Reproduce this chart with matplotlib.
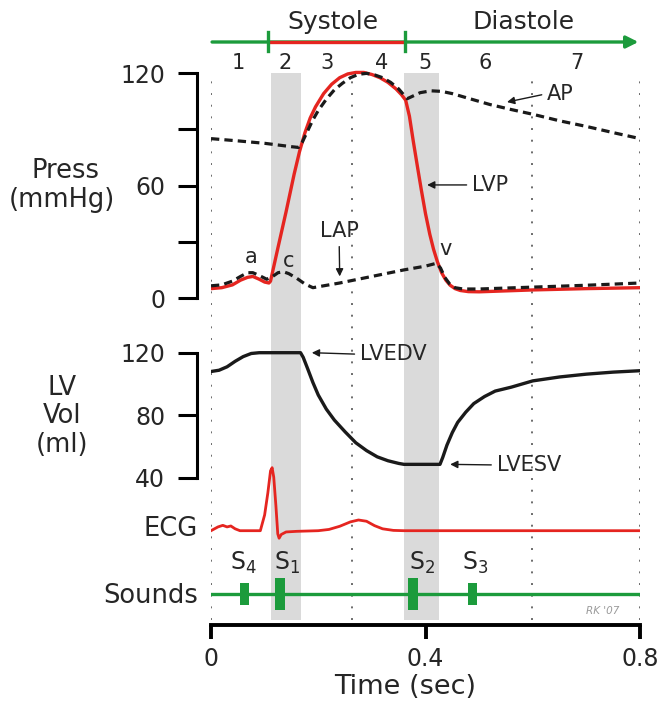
import matplotlib
matplotlib.use('Agg')
import matplotlib.pyplot as plt

# ---------------- data ----------------
# pressures (mmHg) vs time (s)
lvp_t = [0.000, 0.020, 0.040, 0.055, 0.068, 0.078, 0.090, 0.100, 0.108, 0.111, 0.125, 0.140, 0.155,
         0.165, 0.175, 0.185, 0.195, 0.210, 0.225, 0.240, 0.255, 0.270, 0.285, 0.300, 0.315, 0.330,
         0.345, 0.355, 0.363, 0.370, 0.377, 0.385, 0.392, 0.400, 0.408, 0.415, 0.422, 0.430, 0.438,
         0.446, 0.455, 0.465, 0.480, 0.500, 0.550, 0.600, 0.700, 0.800]
lvp_p = [5.0, 5.5, 7.0, 9.5, 11.0, 11.5, 10.0, 8.5, 8.0, 9.0, 27.0, 46.0, 66.0,
         78.0, 88.0, 96.0, 102.0, 109.0, 114.0, 117.5, 119.5, 120.3, 120.3, 119.2, 117.5, 115.0,
         111.5, 108.5, 105.5, 97.0, 84.0, 70.0, 58.0, 45.0, 34.0, 26.0, 19.5, 13.5, 9.5,
         6.8, 5.0, 4.0, 3.4, 3.3, 3.8, 4.3, 5.0, 5.5]

ap_t = [0.000, 0.050, 0.100, 0.150, 0.163, 0.170, 0.180, 0.190, 0.200, 0.215, 0.230, 0.245, 0.260,
        0.275, 0.290, 0.305, 0.320, 0.335, 0.350, 0.362, 0.366, 0.375, 0.390, 0.410, 0.430, 0.450,
        0.480, 0.520, 0.560, 0.600, 0.650, 0.700, 0.750, 0.800]
ap_p = [85.0, 83.8, 82.5, 80.7, 80.3, 83.0, 89.0, 95.0, 100.0, 106.0, 111.0, 114.5, 117.5,
        119.3, 119.8, 119.0, 117.5, 115.0, 111.5, 107.5, 106.3, 107.5, 109.5, 110.5, 110.2, 109.0,
        106.5, 103.2, 100.5, 98.0, 94.5, 91.5, 88.2, 85.0]

lap_t = [0.000, 0.020, 0.040, 0.055, 0.068, 0.078, 0.090, 0.104, 0.115, 0.125, 0.135, 0.145, 0.160,
         0.175, 0.190, 0.240, 0.300, 0.360, 0.400, 0.420, 0.428, 0.436, 0.445, 0.455, 0.470, 0.500,
         0.550, 0.600, 0.700, 0.800]
lap_p = [6.5, 7.0, 9.0, 11.5, 13.5, 13.5, 12.0, 10.0, 11.5, 13.5, 14.0, 13.0, 10.5,
         7.5, 5.5, 8.0, 11.5, 15.0, 17.0, 18.5, 16.0, 11.0, 7.5, 5.5, 4.8, 4.8,
         5.3, 5.8, 6.8, 8.0]

# LV volume (ml)
vol_t = [0.000, 0.015, 0.030, 0.045, 0.060, 0.075, 0.090, 0.111, 0.167, 0.172, 0.180, 0.190, 0.200,
         0.215, 0.230, 0.250, 0.270, 0.290, 0.310, 0.330, 0.350, 0.360, 0.427, 0.432, 0.440, 0.450,
         0.460, 0.475, 0.490, 0.510, 0.530, 0.560, 0.600, 0.650, 0.700, 0.750, 0.800]
vol_v = [108.0, 108.8, 111.0, 114.5, 117.5, 119.5, 120.0, 120.0, 120.0, 117.0, 110.0, 101.0, 93.0,
         84.0, 77.0, 69.5, 62.5, 57.5, 53.5, 51.0, 49.3, 48.7, 48.7, 53.0, 61.0, 69.0,
         75.5, 82.0, 87.5, 92.0, 95.5, 98.0, 102.0, 104.5, 106.3, 107.6, 108.5]

# ECG (mV)
ecg_t = [0.000, 0.013, 0.022, 0.030, 0.037, 0.045, 0.054, 0.092, 0.100, 0.106, 0.111, 0.114, 0.117,
         0.121, 0.1245, 0.127, 0.131, 0.140, 0.160, 0.200, 0.220, 0.240, 0.260, 0.275, 0.290, 0.305,
         0.320, 0.340, 0.360, 0.800]
ecg_v = [0.00, 0.06, 0.085, 0.06, 0.075, 0.03, 0.00, 0.00, 0.25, 0.60, 0.95, 1.00, 0.85,
         0.40, -0.05, -0.12, -0.06, -0.02, -0.01, 0.00, 0.02, 0.07, 0.14, 0.17, 0.15, 0.08,
         0.03, 0.005, 0.00, 0.00]

# heart sounds
sound_names = ['S$_4$', 'S$_1$', 'S$_2$', 'S$_3$']
sound_t = [0.063, 0.129, 0.377, 0.488]
sound_amp = [0.70, 1.00, 1.00, 0.70]
sound_w = [0.016, 0.019, 0.019, 0.016]
sound_label_t = [0.060, 0.142, 0.394, 0.492]
sound_line_t = [0.0, 0.8]

# phases / shading / grid
bands = [(0.111, 0.167), (0.360, 0.425)]
grid_t = [0.0, 0.263, 0.599, 0.8]
systole = (0.106, 0.362)
timeline = (0.002, 0.797)
phase_labels = ['1', '2', '3', '4', '5', '6', '7']
phase_t = [0.050, 0.138, 0.216, 0.319, 0.399, 0.511, 0.683]

time_ticks = [0, 0.4, 0.8]
time_ticklabels = ['0', '0.4', '0.8']
p_ticks = [0, 30, 60, 90, 120]
p_ticklabels = ['0', '', '60', '', '120']
v_ticks = [40, 80, 120]
v_ticklabels = ['40', '80', '120']

# ---------------- style / layout ----------------
RED = '#e52520'
GREEN = '#1c9b3c'
INK = '#1a1a1a'
TXT = '#262626'
BAND = '#dadada'

W, H = 664, 704
fig = plt.figure(figsize=(W / 100, H / 100), dpi=100)
X0, X1 = 211, 640


def rect(y_top, y_bot, x0=X0, x1=X1):
    return [x0 / W, 1 - y_bot / H, (x1 - x0) / W, (y_bot - y_top) / H]


def clean(ax):
    ax.set_facecolor('none')
    for s in ax.spines.values():
        s.set_visible(False)
    ax.set_xlim(0, 0.8)


# background: shading + dotted grid
ax_bg = fig.add_axes(rect(73, 620))
clean(ax_bg)
ax_bg.set_ylim(0, 1)
ax_bg.axis('off')
for a, b in bands:
    ax_bg.axvspan(a, b, color=BAND, lw=0, zorder=0)
ax_bg.vlines(grid_t, 0, 1, colors='#6a6a6a', linestyles=(0, (1, 5)), lw=1.4, zorder=1)

# top timeline (y in pixels)
ax_top = fig.add_axes(rect(0, 73))
clean(ax_top)
ax_top.set_ylim(73, 0)
ax_top.axis('off')
ax_top.annotate('', xy=(timeline[1], 42), xytext=(timeline[0], 42),
                arrowprops=dict(arrowstyle='-|>', color=GREEN, lw=2.4, mutation_scale=18,
                                shrinkA=0, shrinkB=0), annotation_clip=False)
ax_top.plot(systole, [42, 42], color=RED, lw=2.4, solid_capstyle='butt', zorder=3)
for x in systole:
    ax_top.plot([x, x], [32, 51], color=GREEN, lw=2.4, zorder=4)
ax_top.text(sum(systole) / 2 - 0.006, 22, 'Systole', ha='center', va='center', fontsize=18, color=TXT)
ax_top.text(0.582, 22, 'Diastole', ha='center', va='center', fontsize=18, color=TXT)
for lab, x in zip(phase_labels, phase_t):
    ax_top.text(x, 63, lab, ha='center', va='center', fontsize=15, color=TXT)

# pressure axes
P0, PS = 298.0, 1.875
ax_p = fig.add_axes(rect(P0 - 124 * PS, P0 + 2 * PS))
clean(ax_p)
ax_p.set_ylim(-2, 124)
ax_p.spines['left'].set_visible(True)
ax_p.spines['left'].set_position(('outward', 10))
ax_p.spines['left'].set_bounds(0, 120)
ax_p.spines['left'].set_linewidth(2.2)
ax_p.set_yticks(p_ticks)
ax_p.set_yticklabels(p_ticklabels)
ax_p.tick_params(axis='y', length=14, width=2.2, pad=9, labelsize=17, labelcolor=TXT)
ax_p.xaxis.set_visible(False)
dash = (2.6, 1.6)
ax_p.plot(ap_t, ap_p, color=INK, lw=2.3, dashes=dash, zorder=3)
ax_p.plot(lap_t, lap_p, color=INK, lw=2.3, dashes=dash, zorder=3)
ax_p.plot(lvp_t, lvp_p, color=RED, lw=2.4, zorder=2)
arr = dict(arrowstyle='-|>', color=INK, lw=1.0, mutation_scale=11, shrinkA=2, shrinkB=0)
ax_p.annotate('LVP', xy=(0.403, 60.3), xytext=(0.487, 60.3), ha='left', va='center', fontsize=15,
              color=TXT, arrowprops=dict(arr, relpos=(0, 0.5)))
ax_p.annotate('AP', xy=(0.552, 104.5), xytext=(0.627, 109), ha='left', va='center', fontsize=15,
              color=TXT, arrowprops=dict(arr, relpos=(0, 0.5)))
ax_p.annotate('LAP', xy=(0.240, 11.5), xytext=(0.239, 35.7), ha='center', va='center', fontsize=15,
              color=TXT, arrowprops=dict(arr, relpos=(0.5, 0)))
ax_p.text(0.0746, 21.9, 'a', ha='center', va='center', fontsize=15, color=TXT)
ax_p.text(0.1455, 19.7, 'c', ha='center', va='center', fontsize=15, color=TXT)
ax_p.text(0.438, 26.0, 'v', ha='center', va='center', fontsize=15, color=TXT)

# volume axes
V120, VS = 352.7, 1.566
ax_v = fig.add_axes(rect(V120 - 4 * VS, V120 + 82 * VS))
clean(ax_v)
ax_v.set_ylim(38, 124)
ax_v.spines['left'].set_visible(True)
ax_v.spines['left'].set_position(('outward', 10))
ax_v.spines['left'].set_bounds(40, 120)
ax_v.spines['left'].set_linewidth(2.2)
ax_v.set_yticks(v_ticks)
ax_v.set_yticklabels(v_ticklabels)
ax_v.tick_params(axis='y', length=14, width=2.2, pad=9, labelsize=17, labelcolor=TXT)
ax_v.xaxis.set_visible(False)
ax_v.plot(vol_t, vol_v, color=INK, lw=2.4)
ax_v.annotate('LVEDV', xy=(0.188, 120), xytext=(0.278, 119), ha='left', va='center', fontsize=15,
              color=TXT, arrowprops=dict(arr, relpos=(0, 0.5)))
ax_v.annotate('LVESV', xy=(0.446, 48.7), xytext=(0.533, 48.3), ha='left', va='center', fontsize=15,
              color=TXT, arrowprops=dict(arr, relpos=(0, 0.5)))

# ECG axes
E0, ES = 530.7, 63.0
ax_e = fig.add_axes(rect(455, 548))
clean(ax_e)
ax_e.set_ylim(-(548 - E0) / ES, (E0 - 455) / ES)
ax_e.axis('off')
ax_e.plot(ecg_t, ecg_v, color=RED, lw=2.0)

# Sounds axes
ax_s = fig.add_axes(rect(570, 618))
clean(ax_s)
ax_s.set_ylim(-1.5, 1.5)
ax_s.axis('off')
ax_s.plot(sound_line_t, [0, 0], color=GREEN, lw=2.4)
ax_s.bar(sound_t, [2 * a for a in sound_amp], bottom=[-a for a in sound_amp], width=sound_w,
         color=GREEN, lw=0)
for name, x in zip(sound_names, sound_label_t):
    ax_s.text(x, 1.5, name, ha='center', va='baseline', fontsize=17, color=TXT, clip_on=False)

# time axis
ax_t = fig.add_axes(rect(600, 625))
clean(ax_t)
ax_t.spines['bottom'].set_visible(True)
ax_t.spines['bottom'].set_bounds(0, 0.8)
ax_t.spines['bottom'].set_linewidth(2.8)
ax_t.set_xticks(time_ticks)
ax_t.set_xticklabels(time_ticklabels)
ax_t.tick_params(axis='x', length=10, width=2.8, pad=6, labelsize=17, labelcolor=TXT)
ax_t.yaxis.set_visible(False)

# text labels (figure pixels)
def ftext(px, py, s, **kw):
    fig.text(px / W, 1 - py / H, s, color=TXT, **kw)

ftext(66, 171, 'Press', ha='center', va='center', fontsize=18.5)
ftext(62, 200, '(mmHg)', ha='center', va='center', fontsize=18.5)
ftext(62, 388, 'LV', ha='center', va='center', fontsize=18.5)
ftext(62, 416, 'Vol', ha='center', va='center', fontsize=18.5)
ftext(62, 445, '(ml)', ha='center', va='center', fontsize=18.5)
ftext(198, 529, 'ECG', ha='right', va='center', fontsize=18.5)
ftext(198, 596, 'Sounds', ha='right', va='center', fontsize=18.5)
ftext(405, 687, 'Time (sec)', ha='center', va='center', fontsize=19.5)
fig.text(603 / W, 1 - 611 / H, "RK '07", color='#9a9a9a', fontsize=7.5, style='italic',
         ha='center', va='center')

fig.savefig('out.png', dpi=100)
